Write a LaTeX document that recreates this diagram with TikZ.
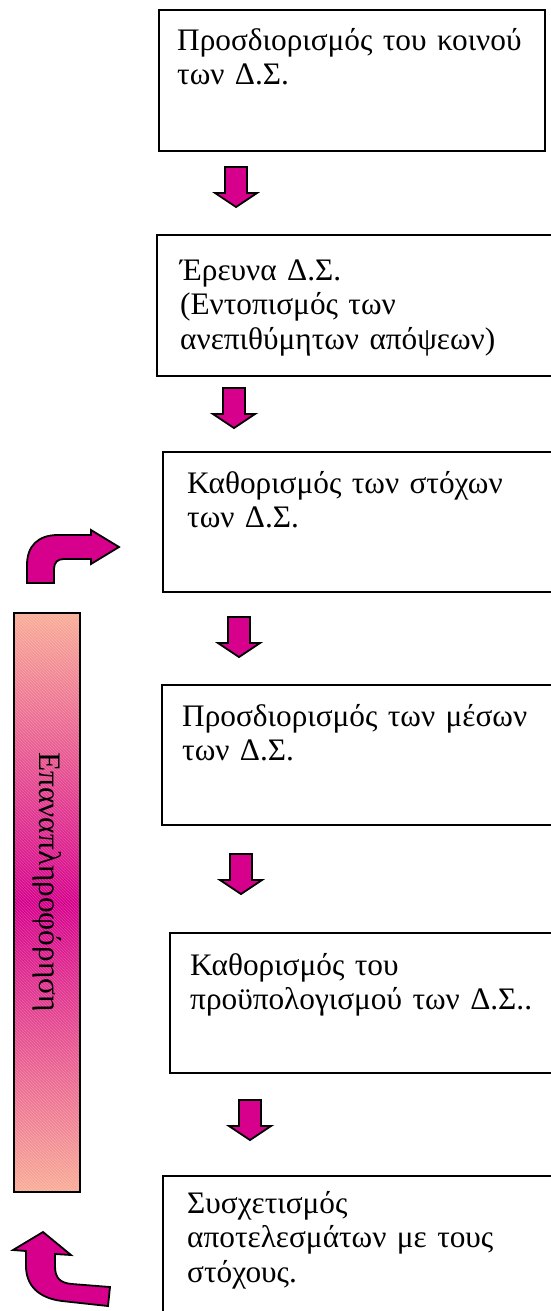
\documentclass[tikz,border=0pt]{standalone}
\usepackage{fontspec}
\setmainfont{Liberation Serif}
\usetikzlibrary{patterns}
\definecolor{mag}{RGB}{214,0,140}
\definecolor{peach}{RGB}{255,204,153}
\begin{document}
\begin{tikzpicture}[x=1pt,y=-1pt,
  box/.style={draw=black,line width=2.2pt},
  txt/.style={anchor=north west,inner sep=0pt,align=left,text width=390pt,
    font=\fontsize{31.3}{34.5}\selectfont},
  blk/.style={fill=mag,draw=black,line width=1.8pt,line join=miter},
  darrow/.pic={\draw[blk] (-11,0) -- (11,0) -- (11,26) -- (21,26) -- (0,40) -- (-21,26) -- (-11,26) -- cycle;}]
\useasboundingbox (0,0) rectangle (551,1311);
\clip (0,0) rectangle (551,1311);
% boxes
\draw[box] (159,10) rectangle (545,151);
\node[txt] (t1) at (177,50-24.2) {\strut Προσδιορισμός του κοινού\\των Δ.Σ.};
\draw[box] (157,235) rectangle (570,376);
\node[txt] (t2) at (180,280-24.2) {\strut Έρευνα Δ.Σ.\\(Εντοπισμός των\\ανεπιθύμητων απόψεων)};
\draw[box] (163,452) rectangle (570,592);
\node[txt] (t3) at (187,493-24.2) {\strut Καθορισμός των στόχων\\των Δ.Σ.};
\draw[box] (162,685) rectangle (570,825);
\node[txt] (t4) at (182,726-24.2) {\strut Προσδιορισμός των μέσων\\των Δ.Σ.};
\draw[box] (170,933) rectangle (570,1073);
\node[txt] (t5) at (190,975-24.2) {\strut Καθορισμός του\\προϋπολογισμού των Δ.Σ..};
\draw[box] (163,1176) rectangle (570,1330);
\node[txt] (t6) at (187,1213-24.2) {\strut Συσχετισμός\\αποτελεσμάτων με τους\\στόχους.};
% down arrows
\pic at (236,167) {darrow};
\pic at (234,388) {darrow};
\pic at (239,617) {darrow};
\pic at (241,854) {darrow};
\pic at (250,1100) {darrow};
% feedback bar
\node[minimum width=66pt,minimum height=579pt,inner sep=0pt,
  top color=peach!85!mag,bottom color=peach!85!mag,middle color=mag] (bar) at (47,902.5) {};
\fill[pattern=north west lines,pattern color=white,opacity=0.22] (bar.north west) rectangle (bar.south east);
\draw[line width=2.2pt] (bar.north west) rectangle (bar.south east);
\node[rotate=-90,font=\fontsize{31.3}{34.5}\selectfont] (fb) at (47,882) {Επαναπληροφόρηση};
% bent arrows
\draw[blk] (27,583) -- (27,565) .. controls (27,546) and (38,535) .. (58,535) -- (91,535) -- (91,530) -- (119,547) -- (91,564) -- (91,559) -- (64,559) .. controls (58,559) and (54,562) .. (54,569) -- (54,583) -- cycle;
\draw[blk] (43,1232) -- (71,1255) -- (55,1254) -- (55,1266) .. controls (55,1278) and (60,1283) .. (72,1284) -- (110,1287) -- (108,1306) -- (62,1301) .. controls (38,1298) and (26,1285) .. (26,1266) -- (26,1251) -- (13,1250) -- cycle;
\end{tikzpicture}
\end{document}
